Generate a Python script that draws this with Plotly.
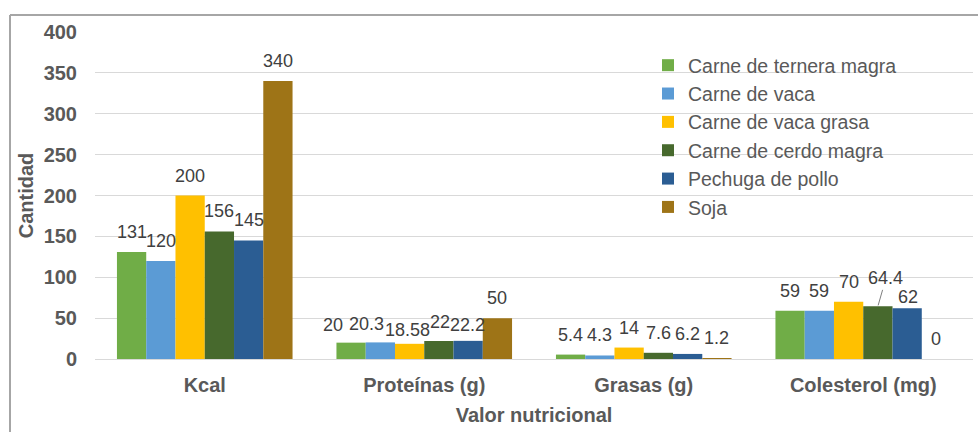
import plotly.graph_objects as go

# Nutritional values per 100 g of each protein source
nutrientes = ["Kcal", "Proteínas (g)", "Grasas (g)", "Colesterol (mg)"]
alimentos = [
    "Carne de ternera magra",
    "Carne de vaca",
    "Carne de vaca grasa",
    "Carne de cerdo magra",
    "Pechuga de pollo",
    "Soja",
]
ternera_magra = [131, 20, 5.4, 59]
vaca = [120, 20.3, 4.3, 59]
vaca_grasa = [200, 18.58, 14, 70]
cerdo_magra = [156, 22, 7.6, 64.4]
pechuga_pollo = [145, 22.2, 6.2, 62]
soja = [340, 50, 1.2, 0]
y_ticks = [0, 50, 100, 150, 200, 250, 300, 350, 400]

series = [ternera_magra, vaca, vaca_grasa, cerdo_magra, pechuga_pollo, soja]
colores = ["#70ad47", "#5b9bd5", "#ffc000", "#47692d", "#2b5d93", "#9e7417"]

GRIS = "#595959"
FUENTE = "Liberation Sans, Arial, sans-serif"
BARGAP = 0.2

fig = go.Figure()
for nombre, valores, color in zip(alimentos, series, colores):
    fig.add_trace(go.Bar(
        name=nombre, x=nutrientes, y=valores,
        marker=dict(color=color, line=dict(width=0)),
    ))

# Data labels above each bar; a few are nudged to avoid overlaps
ajustes = {
    (0, 1): (-18, 18), (1, 1): (-14, 18), (2, 1): (-2, 14),
    (3, 1): (1, 19), (4, 1): (-1, 16),
    (4, 3): (1, 11),
}
n = len(series)
ancho = (1 - BARGAP) / n
for j, valores in enumerate(series):
    for i, v in enumerate(valores):
        xpos = i - (1 - BARGAP) / 2 + (j + 0.5) * ancho
        texto = f"{v:g}"
        if (j, i) == (3, 3):
            fig.add_annotation(
                x=xpos, y=v, text=texto, showarrow=True,
                ax=8, ay=-28, arrowhead=0, arrowwidth=1,
                arrowcolor="#7f7f7f", standoff=1,
                font=dict(family=FUENTE, size=18, color="#404040"),
            )
            continue
        dx, dy = ajustes.get((j, i), (0, 20))
        fig.add_annotation(
            x=xpos, y=v, text=texto, showarrow=False,
            xshift=dx, yshift=dy,
            font=dict(family=FUENTE, size=18, color="#404040"),
        )

# Outer chart frame (top and left edges)
L, R, T, B = 95, 5, 32, 73
W, H = 978, 432
pw, ph = W - L - R, H - T - B
def px(x):
    return (x - L) / pw
def py(y):
    return (H - B - y) / ph
fig.add_shape(type="line", xref="paper", yref="paper",
              x0=px(10), x1=px(978), y0=py(15), y1=py(15),
              line=dict(color="#a6a6a6", width=2))
fig.add_shape(type="line", xref="paper", yref="paper",
              x0=px(10), x1=px(10), y0=py(15), y1=py(432),
              line=dict(color="#a6a6a6", width=2))

fig.update_layout(
    width=W, height=H,
    margin=dict(l=L, r=R, t=T, b=B, pad=0),
    paper_bgcolor="white", plot_bgcolor="white",
    barmode="group", bargap=BARGAP, bargroupgap=0,
    font=dict(family=FUENTE, color=GRIS),
    showlegend=True,
    legend=dict(
        x=px(648), y=py(46), xanchor="left", yanchor="top",
        bgcolor="rgba(0,0,0,0)",
        font=dict(family=FUENTE, size=19.5, color=GRIS),
        tracegroupgap=0, itemwidth=30,
    ),
    xaxis=dict(
        type="category", showgrid=False, showline=False, zeroline=False,
        ticks="", ticklabelstandoff=12,
        tickfont=dict(family=FUENTE, size=20, color=GRIS, weight="bold"),
        title=dict(text="Valor nutricional", standoff=12,
                   font=dict(family=FUENTE, size=20, color=GRIS, weight="bold")),
    ),
    yaxis=dict(
        range=[0, 400], tickvals=y_ticks, showgrid=True,
        gridcolor="#d9d9d9", gridwidth=1, zeroline=True,
        zerolinecolor="#d9d9d9", zerolinewidth=1, showline=False,
        ticks="", ticklabelstandoff=17,
        tickfont=dict(family=FUENTE, size=20, color=GRIS, weight="bold"),
        title=dict(text="Cantidad", standoff=4,
                   font=dict(family=FUENTE, size=20, color=GRIS, weight="bold")),
    ),
)

fig.write_html("out.html")
